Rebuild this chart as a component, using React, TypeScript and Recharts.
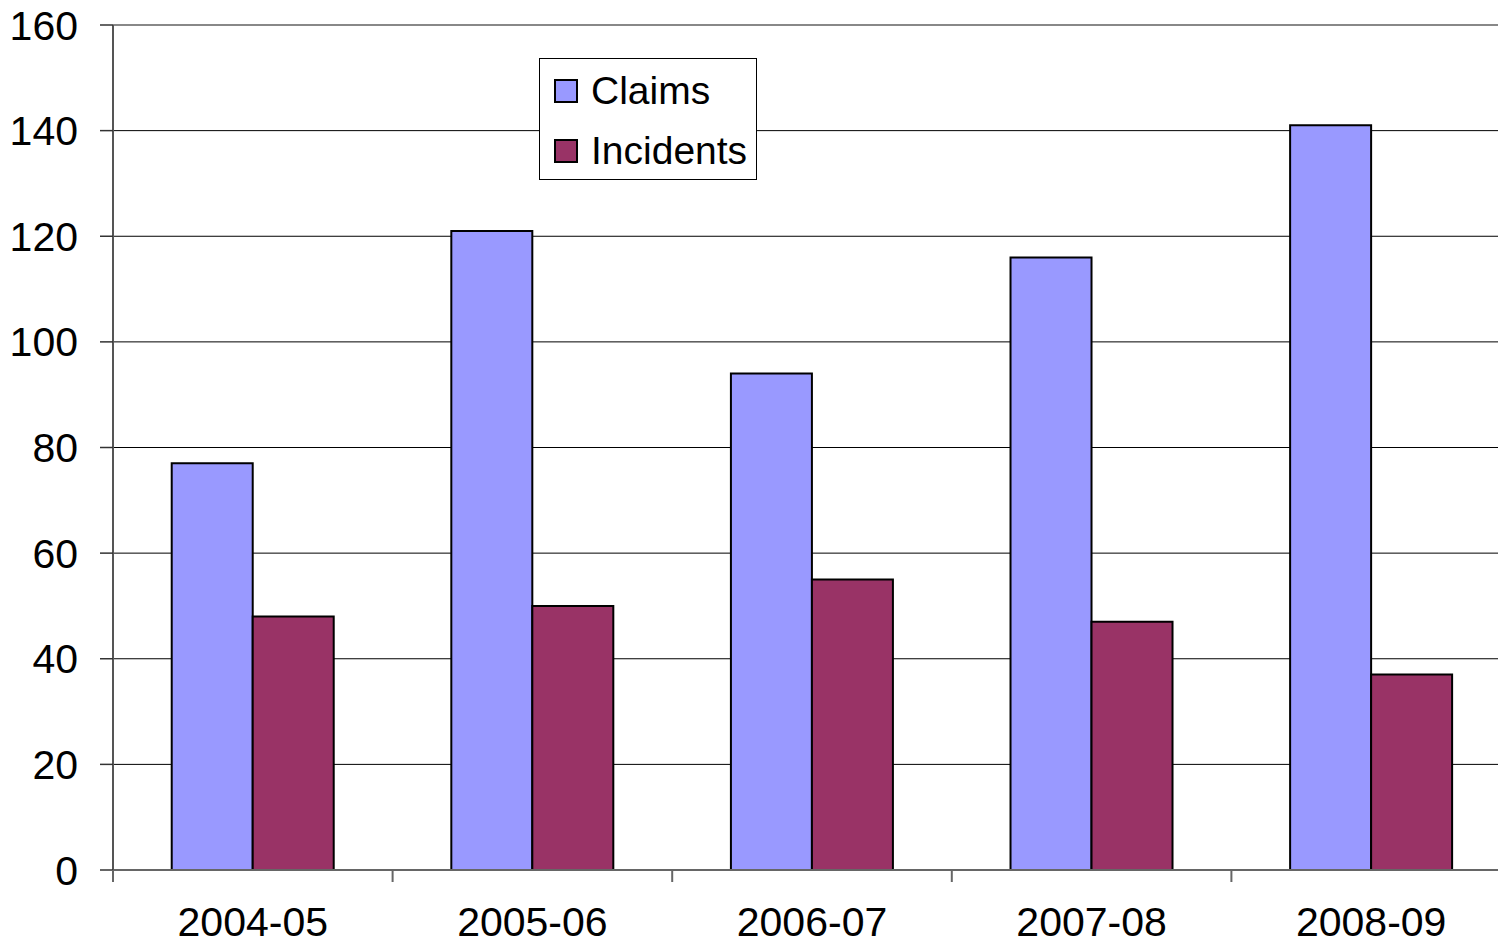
import {
    BarChart,
    Bar,
    XAxis,
    YAxis,
    CartesianGrid,
    ReferenceLine,
} from 'recharts';

const years = ['2004-05', '2005-06', '2006-07', '2007-08', '2008-09'];
const claims = [77, 121, 94, 116, 141];
const incidents = [48, 50, 55, 47, 37];
const yTicks = [0, 20, 40, 60, 80, 100, 120, 140, 160];

const series = [
    { key: 'claims', name: 'Claims', color: '#9999ff' },
    { key: 'incidents', name: 'Incidents', color: '#993366' },
];

const chartData = years.map((year, i) => ({
    year,
    claims: claims[i],
    incidents: incidents[i],
}));

const WIDTH = 1511;
const HEIGHT = 947;
const AXIS_W = 113;
const font = '"Liberation Sans", Arial, sans-serif';
const band = (WIDTH - AXIS_W) / years.length;

// eslint-disable-next-line @typescript-eslint/no-explicit-any
const XTick = (props: any) => {
    const { x, y, payload } = props;
    const left = x - band / 2;
    return (
        <g>
            <line x1={left} y1={y - 8} x2={left} y2={y + 4} stroke="#666" strokeWidth={2} />
            <text x={x} y={y + 58} textAnchor="middle" fontSize={41} fontFamily={font} fill="#000">
                {payload.value}
            </text>
        </g>
    );
};

const LegendBox = () => (
    <div
        style={{
            position: 'absolute',
            left: 539,
            top: 58,
            border: '1px solid #000',
            background: '#fff',
            width: 218,
            height: 122,
            boxSizing: 'border-box',
            padding: '2px 0 0 14px',
            fontFamily: font,
            fontSize: 39,
            color: '#000',
        }}
    >
        {series.map((s) => (
            <div key={s.key} style={{ display: 'flex', alignItems: 'center', height: 60 }}>
                <span
                    style={{
                        display: 'inline-block',
                        width: 20,
                        height: 20,
                        background: s.color,
                        border: '2px solid #000',
                        marginRight: 13,
                    }}
                />
                <span style={{ lineHeight: '40px' }}>{s.name}</span>
            </div>
        ))}
    </div>
);

export default function App() {
    return (
        <div style={{ position: 'fixed', left: 0, top: 0, width: 1498, height: HEIGHT, overflow: 'hidden', background: '#fff' }}>
            <BarChart
                width={WIDTH}
                height={HEIGHT}
                data={chartData}
                margin={{ top: 25, right: 0, left: 0, bottom: 0 }}
                barCategoryGap="21%"
                barGap={0}
            >
                <CartesianGrid horizontal vertical={false} stroke="#000" strokeWidth={1} />
                <ReferenceLine y={160} stroke="#888" strokeWidth={2} />
                <XAxis
                    dataKey="year"
                    height={77}
                    interval={0}
                    tick={<XTick />}
                    tickLine={false}
                    axisLine={{ stroke: '#666', strokeWidth: 2 }}
                />
                <YAxis
                    width={AXIS_W}
                    domain={[0, 160]}
                    ticks={yTicks}
                    interval={0}
                    tickSize={13}
                    tickMargin={22}
                    tickLine={{ stroke: '#333', strokeWidth: 1.5 }}
                    axisLine={{ stroke: '#555', strokeWidth: 2 }}
                    tick={{ fontSize: 41, fontFamily: font, fill: '#000' }}
                />
                {series.map((s) => (
                    <Bar
                        key={s.key}
                        dataKey={s.key}
                        name={s.name}
                        fill={s.color}
                        stroke="#000"
                        strokeWidth={2}
                        isAnimationActive={false}
                    />
                ))}
            </BarChart>
            <LegendBox />
        </div>
    );
}
